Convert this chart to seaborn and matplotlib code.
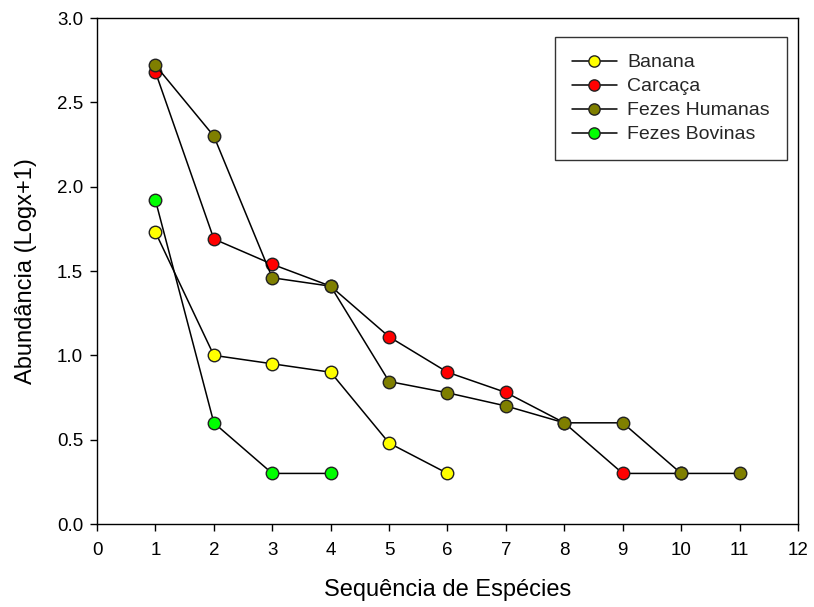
import matplotlib
matplotlib.use("Agg")
import matplotlib.pyplot as plt
import seaborn as sns
import pandas as pd

series_names = ["Banana", "Carcaça", "Fezes Humanas", "Fezes Bovinas"]
series_colors = ["#ffff00", "#ff0000", "#7f7f00", "#00ff00"]

banana_x = [1, 2, 3, 4, 5, 6]
banana_y = [1.73, 1.00, 0.95, 0.90, 0.48, 0.30]

carcaca_x = [1, 2, 3, 4, 5, 6, 7, 8, 9, 10]
carcaca_y = [2.68, 1.69, 1.54, 1.41, 1.11, 0.90, 0.78, 0.60, 0.30, 0.30]

humanas_x = [1, 2, 3, 4, 5, 6, 7, 8, 9, 10, 11]
humanas_y = [2.72, 2.30, 1.46, 1.41, 0.845, 0.778, 0.70, 0.60, 0.60, 0.30, 0.30]

bovinas_x = [1, 2, 3, 4]
bovinas_y = [1.92, 0.60, 0.30, 0.30]

xs = [banana_x, carcaca_x, humanas_x, bovinas_x]
ys = [banana_y, carcaca_y, humanas_y, bovinas_y]

sns.set_theme(style="white")
plt.rcParams['font.family'] = ['Liberation Sans', 'DejaVu Sans']

fig = plt.figure(figsize=(8.14, 6.07), dpi=100)
ax = fig.add_axes([0.1192, 0.1367, 0.8611, 0.8336])

for name, col, x, y in zip(series_names, series_colors, xs, ys):
    df = pd.DataFrame({"x": x, "y": y})
    sns.lineplot(data=df, x="x", y="y", ax=ax, color="black", linewidth=1.1,
                 marker="o", markersize=9, markerfacecolor=col,
                 markeredgecolor="#222222", markeredgewidth=1.0, label=name,
                 sort=False, estimator=None)

ax.set_xlim(0, 12)
ax.set_ylim(0, 3.0)
ax.set_xticks(range(0, 13))
ax.set_yticks([0, 0.5, 1.0, 1.5, 2.0, 2.5, 3.0])
ax.set_yticklabels(["0.0", "0.5", "1.0", "1.5", "2.0", "2.5", "3.0"])
ax.tick_params(axis="both", direction="out", length=5, width=1, color="black",
               labelsize=13.5, labelcolor="black", bottom=True, left=True)
ax.tick_params(axis="x", pad=8)
ax.tick_params(axis="y", pad=5)
for s in ax.spines.values():
    s.set_color("black")
    s.set_linewidth(1.0)
ax.set_xlabel("Sequência de Espécies", fontsize=17, labelpad=14, color="black")
ax.set_ylabel("Abundância (Logx+1)", fontsize=17, labelpad=14, color="black")

leg = ax.legend(loc="upper right", bbox_to_anchor=(0.984, 0.9625), fontsize=14,
                frameon=True, fancybox=False, edgecolor="black", borderpad=0.86,
                borderaxespad=0.0, handlelength=2.3, labelspacing=0.33,
                handletextpad=0.55, markerscale=0.9)
leg.get_frame().set_linewidth(1.0)

fig.savefig("out.png", dpi=100)
